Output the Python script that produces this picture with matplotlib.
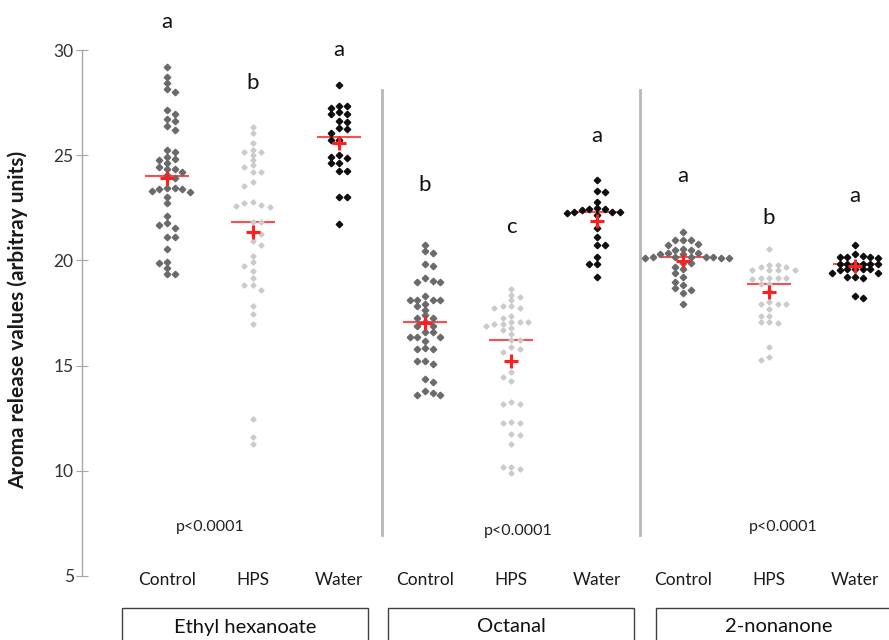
import numpy as np
import matplotlib
matplotlib.use("Agg")
import matplotlib.pyplot as plt
from matplotlib.patches import Rectangle

plt.rcParams['font.family'] = ['Lato', 'DejaVu Sans']

# ---------------- data ----------------
compounds = ['Ethyl hexanoate', 'Octanal', '2-nonanone']
treatments = ['Control', 'HPS', 'Water']

eh_control = [29.18, 28.73, 28.45, 28.15, 28.02, 27.15, 26.96, 26.72, 26.64, 26.40, 26.21,
              25.25, 25.15, 24.93, 24.84, 24.77, 24.62, 24.43, 24.33, 24.33, 24.22, 24.05,
              23.90, 23.46, 23.46, 23.38, 23.38, 23.32, 23.24, 23.03, 22.75, 22.13, 21.77,
              21.66, 21.53, 21.13, 21.13, 20.53, 19.94, 19.90, 19.63, 19.36, 19.36]
eh_hps = [26.36, 26.04, 25.57, 25.25, 25.15, 25.15, 25.01, 24.77, 24.52, 24.43, 24.22,
          24.20, 23.74, 23.54, 22.79, 22.72, 22.64, 22.59, 22.56, 21.81, 21.81, 21.26,
          21.26, 20.90, 20.74, 20.23, 19.94, 19.74, 19.51, 19.15, 18.82, 18.82, 18.61,
          17.84, 17.47, 16.98, 12.47, 11.61, 11.27]
eh_water = [28.34, 27.34, 27.34, 27.23, 27.04, 26.96, 26.95, 26.63, 26.60, 26.28, 26.25,
            26.04, 25.72, 25.72, 25.01, 24.93, 24.86, 24.62, 24.62, 24.25, 24.25, 23.03,
            23.03, 21.73]

oc_control = [20.74, 20.47, 20.34, 19.83, 19.74, 19.15, 19.04, 18.95, 18.95, 18.33, 18.12,
              18.12, 18.12, 18.12, 17.92, 17.84, 17.65, 17.40, 17.28, 17.28, 17.08, 16.89,
              16.89, 16.59, 16.59, 16.38, 16.38, 16.38, 16.18, 15.86, 15.78, 15.78, 15.20,
              15.20, 15.08, 14.37, 14.20, 13.77, 13.69, 13.58, 13.58]
oc_hps = [18.65, 18.36, 18.25, 18.12, 17.84, 17.84, 17.73, 17.73, 17.38, 17.28, 17.07,
          17.07, 17.07, 16.98, 16.98, 16.89, 16.78, 16.70, 16.50, 16.22, 16.22, 15.88,
          15.78, 15.67, 14.69, 14.48, 14.29, 13.26, 13.17, 13.17, 12.34, 12.26, 12.26,
          11.76, 11.68, 11.27, 10.16, 10.16, 10.08, 9.89]
oc_water = [23.82, 23.32, 23.24, 22.79, 22.51, 22.43, 22.43, 22.40, 22.32, 22.32, 22.29,
            22.27, 22.16, 21.56, 21.13, 20.74, 20.74, 20.14, 19.83, 19.83, 19.23]

nn_control = [21.37, 20.97, 20.97, 20.95, 20.78, 20.74, 20.55, 20.50, 20.48, 20.34, 20.34,
              20.31, 20.29, 20.18, 20.16, 20.15, 20.15, 20.14, 20.13, 20.12, 20.10, 19.90,
              19.88, 19.71, 19.58, 19.39, 19.23, 18.99, 18.84, 18.68, 18.60, 18.47, 17.93]
nn_hps = [20.53, 19.79, 19.79, 19.71, 19.71, 19.55, 19.55, 19.52, 19.52, 19.17, 19.16,
          19.15, 19.14, 19.13, 18.88, 18.88, 18.60, 18.04, 17.93, 17.93, 17.93, 17.68,
          17.38, 17.38, 17.05, 17.05, 17.01, 15.90, 15.40, 15.27]
nn_water = [20.74, 20.30, 20.21, 20.16, 20.15, 20.14, 20.10, 19.85, 19.84, 19.83, 19.83,
            19.82, 19.81, 19.60, 19.59, 19.58, 19.57, 19.56, 19.39, 19.38, 19.23, 19.22,
            19.18, 18.33, 18.23]

medians = [24.03, 21.81, 25.88, 17.08, 16.22, 22.29, 20.15, 18.88, 19.83]
means = [23.90, 21.37, 25.60, 17.04, 15.24, 21.85, 19.99, 18.52, 19.75]
letters = ['a', 'b', 'a', 'b', 'c', 'a', 'a', 'b', 'a']
letter_y = [31.33, 28.43, 30.0, 23.59, 21.59, 25.91, 24.01, 22.02, 23.06]
p_values = ['p<0.0001', 'p<0.0001', 'p<0.0001']
y_ticks = [5, 10, 15, 20, 25, 30]

groups = [eh_control, eh_hps, eh_water, oc_control, oc_hps, oc_water,
          nn_control, nn_hps, nn_water]

# ---------------- figure ----------------
W, H = 889, 640
fig = plt.figure(figsize=(W / 100, H / 100), dpi=100)
ax = fig.add_axes([82 / W, 64 / H, 807 / W, 526 / H])
ax.set_xlim(-0.988, 8.395)
ax.set_ylim(5, 30)

styles = {
    'Control': dict(color='#6a6a6a', ms=3.3, d=7.6, dy=5.2),
    'HPS': dict(color='#cbcbcb', ms=2.6, d=8.5, dy=5.0),
    'Water': dict(color='#0d0d0d', ms=3.3, d=7.6, dy=5.2),
}

x_scale = ax.transData.transform([[1, 0]])[0, 0] - ax.transData.transform([[0, 0]])[0, 0]


def swarm(vals, d_px, dy_px):
    vals = np.asarray(vals, dtype=float)
    ypx = ax.transData.transform(np.column_stack([np.zeros(len(vals)), vals]))[:, 1]
    order = np.argsort(-vals, kind='stable')
    placed = []
    offs = np.zeros(len(vals))
    cands = [0.0]
    for m in range(1, 30):
        cands += [m, -m]
    for n, i in enumerate(order):
        sign = 1 if n % 2 == 0 else -1
        for c in cands:
            x = sign * c * d_px
            ok = True
            for (px, py) in placed:
                if abs(x - px) < d_px * 0.98 and abs(ypx[i] - py) < dy_px:
                    ok = False
                    break
            if ok:
                break
        placed.append((x, ypx[i]))
        offs[i] = x / x_scale
    return offs


for gi, vals in enumerate(groups):
    tr = treatments[gi % 3]
    st = styles[tr]
    xo = swarm(vals, st['d'], st['dy'])
    # median line
    ax.plot([gi - 0.256, gi + 0.256], [medians[gi]] * 2, color='#ff4d4d', lw=1.5,
            zorder=2, solid_capstyle='butt')
    ax.plot(gi + xo, vals, linestyle='none', marker='D', ms=st['ms'],
            color=st['color'], mec=st['color'], zorder=3)
    ax.plot(gi, means[gi], marker='+', ms=10, mew=2.2, color='#ff1f1f', zorder=4,
            linestyle='none')
    ax.text(gi, letter_y[gi], letters[gi], ha='center', va='center', fontsize=16,
            color='#111111', clip_on=False)
    ax.text(gi, 4.82, tr, ha='center', va='center', fontsize=12.5, color='#1a1a1a',
            clip_on=False)

# separators
for sx in [2.5, 5.5]:
    ax.plot([sx, sx], [28.1, 6.95], color='#b8b8b8', lw=2, zorder=1)

# p values
p_pos = [(0.5, 7.34), (4.08, 7.15), (7.17, 7.34)]
for (px, py), pt in zip(p_pos, p_values):
    ax.text(px, py, pt, ha='center', va='center', fontsize=11.5, color='#222222')

# axes styling
for s in ['top', 'right', 'bottom']:
    ax.spines[s].set_visible(False)
ax.spines['left'].set_color('#a8a8a8')
ax.spines['left'].set_linewidth(1.0)
ax.set_xticks([])
ax.set_yticks(y_ticks)
ax.tick_params(axis='y', direction='inout', length=8, color='#a8a8a8',
               labelcolor='#333333', labelsize=12.5, pad=2)

fig.text(18 / W, 1 - 320 / H, 'Aroma release values (arbitray units)', rotation=90,
         ha='center', va='center', fontsize=15, fontweight='bold', color='#1a1a1a')

# compound boxes
box_left = [122, 388, 656]
for bl, name in zip(box_left, compounds):
    fig.patches.append(Rectangle((bl / W, -0.05), 246 / W, 0.05 + (1 - 608 / H),
                                 transform=fig.transFigure, fill=False,
                                 edgecolor='#404040', lw=1.0))
    fig.text((bl + 123) / W, 1 - 627 / H, name, ha='center', va='center',
             fontsize=14.5, color='#111111')

fig.savefig('out.png', dpi=100)
